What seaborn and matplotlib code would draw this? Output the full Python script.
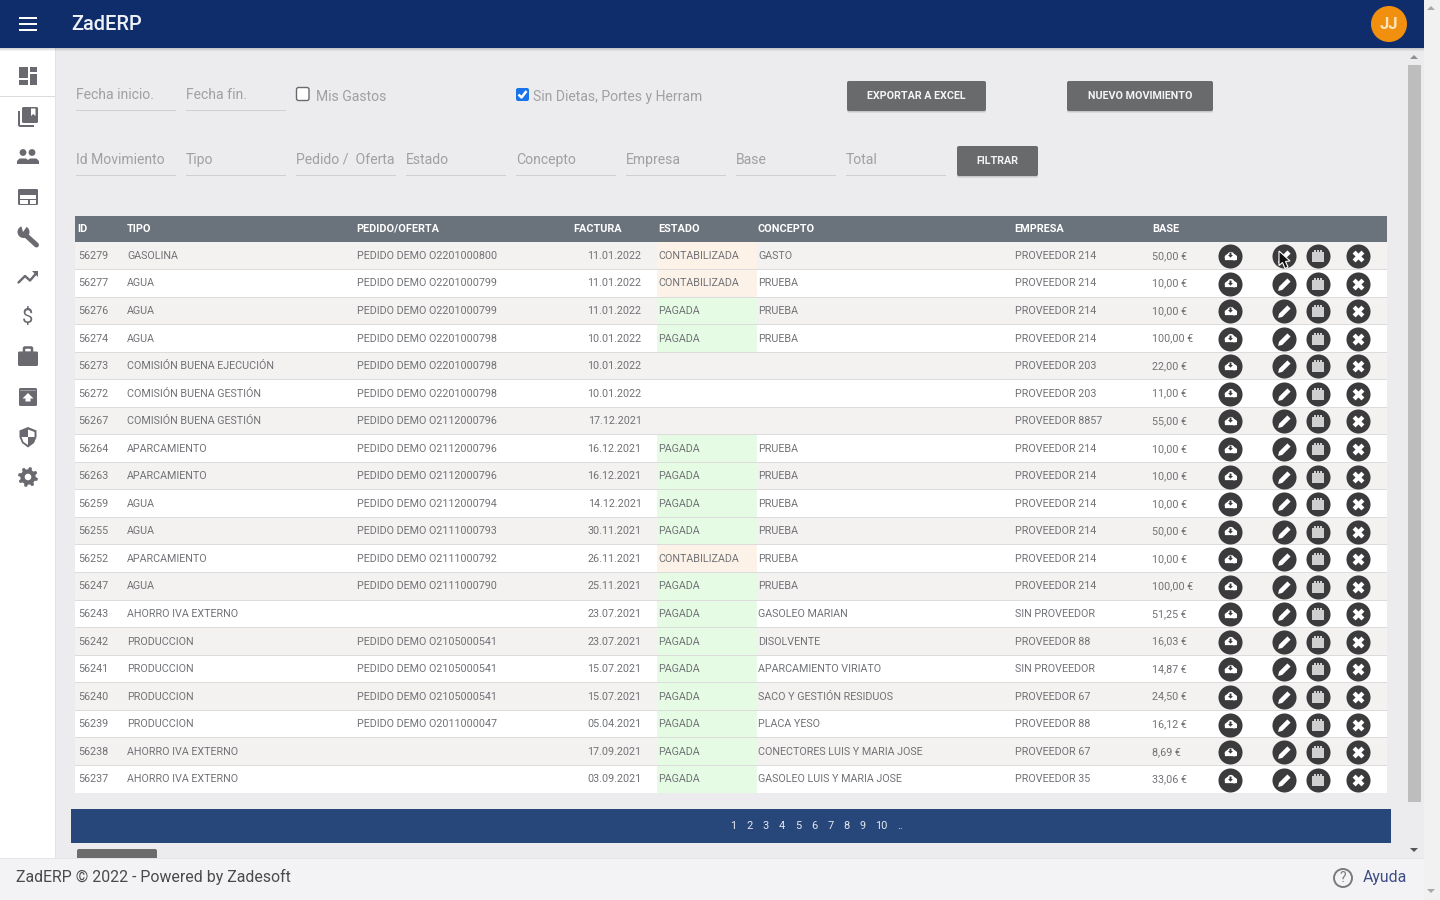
import numpy as np
import pandas as pd
import matplotlib
matplotlib.use("Agg")
import matplotlib.pyplot as plt
from matplotlib.colors import ListedColormap
from matplotlib.patches import Rectangle, FancyBboxPatch, Circle, Polygon
from matplotlib.path import Path
import seaborn as sns

# ---------- table content ----------
ids = ["56279","56277","56276","56274","56273","56272","56267","56264","56263","56259",
       "56255","56252","56247","56243","56242","56241","56240","56239","56238","56237"]
tipos = ["GASOLINA","AGUA","AGUA","AGUA","COMISIÓN BUENA EJECUCIÓN","COMISIÓN BUENA GESTIÓN",
         "COMISIÓN BUENA GESTIÓN","APARCAMIENTO","APARCAMIENTO","AGUA","AGUA","APARCAMIENTO","AGUA",
         "AHORRO IVA EXTERNO","PRODUCCION","PRODUCCION","PRODUCCION","PRODUCCION",
         "AHORRO IVA EXTERNO","AHORRO IVA EXTERNO"]
pedidos = ["O2201000800","O2201000799","O2201000799","O2201000798","O2201000798","O2201000798",
           "O2112000796","O2112000796","O2112000796","O2112000794","O2111000793","O2111000792",
           "O2111000790","","O2105000541","O2105000541","O2105000541","O2011000047","",""]
facturas = ["11.01.2022","11.01.2022","11.01.2022","10.01.2022","10.01.2022","10.01.2022",
            "17.12.2021","16.12.2021","16.12.2021","14.12.2021","30.11.2021","26.11.2021",
            "25.11.2021","23.07.2021","23.07.2021","15.07.2021","15.07.2021","05.04.2021",
            "17.09.2021","03.09.2021"]
estados = ["CONTABILIZADA","CONTABILIZADA","PAGADA","PAGADA","","","","PAGADA","PAGADA","PAGADA",
           "PAGADA","CONTABILIZADA","PAGADA","PAGADA","PAGADA","PAGADA","PAGADA","PAGADA","PAGADA","PAGADA"]
conceptos = ["GASTO","PRUEBA","PRUEBA","PRUEBA","","","","PRUEBA","PRUEBA","PRUEBA","PRUEBA","PRUEBA",
             "PRUEBA","GASOLEO MARIAN","DISOLVENTE","APARCAMIENTO VIRIATO","SACO Y GESTIÓN RESIDUOS",
             "PLACA YESO","CONECTORES LUIS Y MARIA JOSE","GASOLEO LUIS Y MARIA JOSE"]
empresas = ["PROVEEDOR 214","PROVEEDOR 214","PROVEEDOR 214","PROVEEDOR 214","PROVEEDOR 203",
            "PROVEEDOR 203","PROVEEDOR 8857","PROVEEDOR 214","PROVEEDOR 214","PROVEEDOR 214",
            "PROVEEDOR 214","PROVEEDOR 214","PROVEEDOR 214","SIN PROVEEDOR","PROVEEDOR 88",
            "SIN PROVEEDOR","PROVEEDOR 67","PROVEEDOR 88","PROVEEDOR 67","PROVEEDOR 35"]
bases = ["50,00 €","10,00 €","10,00 €","100,00 €","22,00 €","11,00 €","55,00 €","10,00 €","10,00 €",
         "10,00 €","50,00 €","10,00 €","100,00 €","51,25 €","16,03 €","14,87 €","24,50 €","16,12 €",
         "8,69 €","33,06 €"]
headers = ["ID","TIPO","PEDIDO/OFERTA","FACTURA","ESTADO","CONCEPTO","EMPRESA","BASE"]
filters_top = ["Fecha inicio.","Fecha fin."]
filters_row = ["Id Movimiento","Tipo","Pedido /  Oferta","Estado","Concepto","Empresa","Base","Total"]
pages = ["1","2","3","4","5","6","7","8","9","10",".."]

# ---------- layout ----------
W, H = 1440, 900
n = len(ids)
T0, T1 = 242, 793
rows = T0 + (np.arange(n) + 0.5) * (T1 - T0) / n
hdr_x = [77, 127, 356.5, 573.5, 658.5, 758, 1014.5, 1152]
TXT, HDR = "#707276", "#ffffff"
FS = 7.75

sns.set_theme(style="white")
plt.rcParams["font.family"] = ["Roboto", "DejaVu Sans"]
fig = plt.figure(figsize=(14.4, 9), dpi=100, facecolor="#ececee")

def px_axes(x0, y0, x1, y1, z):
    return fig.add_axes([x0 / W, 1 - y1 / H, (x1 - x0) / W, (y1 - y0) / H], zorder=z)

# background chrome
bg = px_axes(0, 0, W, H, 0)
bg.set_xlim(0, W); bg.set_ylim(H, 0); bg.axis("off")

# row stripes and status cells as seaborn heatmaps
stripe_ax = px_axes(75, T0, 1387, T1, 1)
stripes = pd.DataFrame({"row": [i % 2 for i in range(n)]})
sns.heatmap(stripes, ax=stripe_ax, cbar=False, cmap=ListedColormap(["#f4f2f0", "#ffffff"]),
            vmin=0, vmax=1, xticklabels=False, yticklabels=False)
stripe_ax.axis("off")

state_ax = px_axes(657, T0, 757, T1, 2)
code = {"": np.nan, "CONTABILIZADA": 0, "PAGADA": 1}
states = pd.DataFrame({"estado": [code[e] for e in estados]})
sns.heatmap(states, ax=state_ax, cbar=False, cmap=ListedColormap(["#fdf2e7", "#e5fbe4"]),
            vmin=0, vmax=1, xticklabels=False, yticklabels=False, mask=states.isna())
state_ax.axis("off"); state_ax.patch.set_alpha(0)

# overlay for text, buttons and icons
ax = px_axes(0, 0, W, H, 3)
ax.set_xlim(0, W); ax.set_ylim(H, 0); ax.axis("off"); ax.patch.set_alpha(0)

def rect(a, x0, y0, x1, y1, c, z=1, **k):
    a.add_patch(Rectangle((x0, y0), x1 - x0, y1 - y0, fc=c, ec="none", zorder=z, **k))

def rrect(a, x0, y0, x1, y1, c, r=2, z=1, **k):
    a.add_patch(FancyBboxPatch((x0 + r, y0 + r), x1 - x0 - 2 * r, y1 - y0 - 2 * r,
                               boxstyle=f"round,pad={r}", fc=c, ec=k.pop("ec", "none"), zorder=z, **k))

# chrome shapes
rect(bg, 1424, 0, W, H, "#f1f1f1")
rect(bg, 0, 48, 55, 860, "#ffffff")
rect(bg, 55, 48, 56, 860, "#e2e2e4")
for i, a in enumerate([.16, .10, .05]):
    rect(bg, 0, 48 + i, 1424, 49 + i, "#000000", z=2, alpha=a)
rect(bg, 0, 0, 1424, 48, "#0f2d6b", z=3)
rect(bg, 0, 96, 55, 97, "#dcdcdc", z=2)
rect(bg, 1408, 65, 1421, 802, "#bdbdbd")
rect(bg, 75, 216, 1387, 242, "#6a727b")
rect(bg, 71, 809, 1391, 843, "#27467a")
rrect(bg, 77, 849, 157, 870, "#6c6c6c", r=2)
rect(bg, 0, 859, 1424, 900, "#f3f3f5", z=4)
rect(bg, 0, 858, 1424, 859, "#e4e4e6", z=4)
for xc, yc, d in [(1431, 8, -1), (1414, 57, -1), (1414, 850, 1), (1431, 891, 1)]:
    col = "#555555" if xc == 1414 and d == 1 else "#a8a8a8" if xc == 1431 else "#909090"
    bg.add_patch(Polygon([(xc - 4, yc - 2 * d), (xc + 4, yc - 2 * d), (xc, yc + 2 * d)], fc=col, ec="none", zorder=5))

# top bar
for y in (18, 24, 30):
    rect(ax, 19, y - 1, 37, y + 1, "#ffffff")
ax.text(71.5, 24.5, "ZadERP", color="#eef2f8", fontsize=14.4, weight="medium", va="center")
ax.add_patch(Circle((1389, 24), 18, fc="#f18f0e", ec="none"))
ax.text(1389, 24.5, "JJ", color="#fde6bd", fontsize=12, weight="bold", va="center", ha="center")

# filters
GREY = "#a0a0a2"
for label, x0 in zip(filters_top, [76, 186]):
    ax.text(x0, 95, label, color=GREY, fontsize=10.1, va="center")
    rect(ax, x0, 110, x0 + 100, 111, "#d0d0d2")
for i, label in enumerate(filters_row):
    x0 = 76 + 110 * i
    ax.text(x0, 160, label, color=GREY, fontsize=10.1, va="center")
    rect(ax, x0, 175, x0 + 100, 176, "#d0d0d2")
rrect(ax, 296.5, 87.5, 309, 100.5, "#ffffff", r=2, ec="#6a6a6a", lw=1)
ax.text(316, 97, "Mis Gastos", color=GREY, fontsize=10.1, va="center")
rrect(ax, 516, 88, 529, 101, "#1a73e8", r=2)
ax.plot([518.5, 521.5, 526.5], [94.5, 97.5, 91], color="white", lw=1.8, solid_capstyle="butt")
ax.text(533, 97, "Sin Dietas, Portes y Herram", color=GREY, fontsize=10.1, va="center")

for label, x0, y0, x1, y1 in [("EXPORTAR A EXCEL", 847, 81, 986, 111),
                              ("NUEVO MOVIMIENTO", 1067, 81, 1213, 111),
                              ("FILTRAR", 957, 146, 1038, 176)]:
    rrect(ax, x0, y0 + 1.5, x1, y1 + 1.5, "#c8c8ca", r=2)
    rrect(ax, x0, y0, x1, y1, "#696a6c", r=2)
    ax.text((x0 + x1) / 2, (y0 + y1) / 2, label, color="#f4f4f4", fontsize=7.75, weight="bold",
            ha="center", va="center")

# table text
for label, x in zip(headers, hdr_x):
    ax.text(x, 229, label, color=HDR, fontsize=7.8, weight="bold", va="center")
for i, y in enumerate(rows):
    if i < n - 1:
        rect(ax, 75, y + 13.2, 1387, y + 14.2, "#dcdcdc", z=0.5)
    t = y + 0.1
    ax.text(hdr_x[0] + 1, t, ids[i], color=TXT, fontsize=FS, va="center")
    ax.text(hdr_x[1], t, tipos[i], color=TXT, fontsize=FS, va="center")
    if pedidos[i]:
        ax.text(hdr_x[2] + 0.5, t, "PEDIDO DEMO " + pedidos[i], color=TXT, fontsize=FS, va="center")
    ax.text(641.5, t, facturas[i], color=TXT, fontsize=FS, va="center", ha="right")
    ax.text(hdr_x[4], t, estados[i], color=TXT, fontsize=FS, va="center")
    ax.text(hdr_x[5], t, conceptos[i], color=TXT, fontsize=FS, va="center")
    ax.text(hdr_x[6] + 0.5, t, empresas[i], color=TXT, fontsize=FS, va="center")
    ax.text(hdr_x[7], t, bases[i], color=TXT, fontsize=FS, va="center")

# action buttons as seaborn scatter layers
def unit(points):
    return Path(np.array(points, float))

def compound(*paths):
    return Path.make_compound_path(*paths)

cloud = compound(Path.circle((-0.45, 0.05), 0.42), Path.circle((0.05, 0.3), 0.55), Path.circle((0.55, 0.02), 0.45),
                 Path(np.array([[-0.85, -0.4], [0.95, -0.4], [0.95, 0.2], [-0.85, 0.2], [-0.85, -0.4]]), closed=True))
arrow_down = unit([(-0.5, 0.1), (-0.2, 0.1), (-0.2, 0.6), (0.2, 0.6), (0.2, 0.1), (0.5, 0.1), (0, -0.45), (-0.5, 0.1)])
pencil = unit([(-1, -1), (-0.85, -0.35), (0.45, 0.95), (0.95, 0.45), (-0.35, -0.85), (-1, -1)])
calendar = unit([(-0.9, -0.9), (0.9, -0.9), (0.9, 0.7), (0.55, 0.7), (0.55, 1), (0.3, 1), (0.3, 0.7), (0.12, 0.7), (0.12, 1),
                 (-0.12, 1), (-0.12, 0.7), (-0.3, 0.7), (-0.3, 1), (-0.55, 1), (-0.55, 0.7), (-0.9, 0.7), (-0.9, -0.9)])

btn_cols = {"descarga": 1230, "editar": 1284, "calendario": 1318, "borrar": 1358}
btn = pd.DataFrame([{"x": x, "y": y + 0.4} for x in btn_cols.values() for y in rows])
sns.scatterplot(data=btn, x="x", y="y", ax=ax, s=300, color="#3b3b3d", linewidth=0, legend=False, zorder=5)

def glyph(col, marker, size, color, dy=0.0):
    d = pd.DataFrame({"x": btn_cols[col] * np.ones(n), "y": rows + 0.4 + dy})
    sns.scatterplot(data=d, x="x", y="y", ax=ax, s=size, marker=marker, color=color,
                    linewidth=0, legend=False, zorder=6)

glyph("descarga", cloud, 90, "#ffffff", dy=0.5)
glyph("descarga", arrow_down, 18, "#3b3b3d", dy=-1.0)
glyph("editar", pencil, 85, "#ffffff")
glyph("calendario", calendar, 85, "#cfcfcf")
glyph("calendario", "_", 30, "#b0b0b0", dy=-2.0)
glyph("borrar", "X", 72, "#ffffff")
ax.set_xlim(0, W); ax.set_ylim(H, 0); ax.set_xlabel(""); ax.set_ylabel("")

# mouse cursor on first row
ax.add_patch(Polygon([(1279, 251), (1279, 265.5), (1282.5, 262.5), (1285, 268.5), (1288, 267), (1285.5, 261.5), (1290, 261)],
                     fc="#111111", ec="#ffffff", lw=0.8, zorder=8))

# pagination
page_x = [733, 749.5, 766, 782, 798.5, 814.5, 830.5, 846.5, 862.5, 881, 900]
for label, x in zip(pages, page_x):
    ax.text(x, 826, label, color="#e6e9f0", fontsize=7.9, ha="center", va="center")

# footer
ax.text(16, 877, "ZadERP © 2022 - Powered by Zadesoft", color="#4a4a4c", fontsize=11.4, va="center")
ax.add_patch(Circle((1343, 878), 9, fc="none", ec="#7a7a7a", lw=1.4))
ax.text(1343, 878.5, "?", color="#7a7a7a", fontsize=10, ha="center", va="center")
ax.text(1363, 877.5, "Ayuda", color="#3d4d85", fontsize=11.4, va="center")

# sidebar icons
IC = "#69696f"
for x0, y0, x1, y1 in [(19, 67, 27.5, 78), (19, 80, 27.5, 85), (29.5, 67, 37, 72), (29.5, 74, 37, 85)]:
    rect(ax, x0, y0, x1, y1, IC)
# library
rrect(ax, 22, 107, 38, 123, IC, r=1.5)
ax.add_patch(Polygon([(31, 108.5), (35.5, 108.5), (35.5, 116), (33.2, 114), (31, 116)], fc="white", ec="none", zorder=2))
ax.add_patch(Polygon([(18, 111), (20, 111), (20, 125), (34, 125), (34, 127), (19.5, 127), (18, 125.5)], fc=IC, ec="none"))
# people
for cx, cy in [(23, 152.5), (32, 152.5)]:
    ax.add_patch(Circle((cx, cy), 3.4, fc=IC, ec="none"))
ax.add_patch(Polygon([(17, 164), (17, 161), (19.5, 158.5), (26, 158.5), (28, 160), (30, 158.5), (36.5, 158.5), (39, 161), (39, 164)], fc=IC, ec="none"))
# web
rrect(ax, 18, 189, 38, 205, IC, r=1.2)
rect(ax, 20, 194.5, 36, 203.5, "#ffffff", z=2)
rect(ax, 20, 199, 36, 200.3, IC, z=3)
rect(ax, 28, 199, 29.5, 203.5, IC, z=3)
# wrench
ax.plot([25, 36.5], [234.5, 245], color=IC, lw=3.6, solid_capstyle="round")
ax.add_patch(Circle((23.5, 232), 6, fc=IC, ec="none"))
ax.add_patch(Polygon([(23, 232), (21, 225), (28, 225)], fc="white", ec="none", zorder=2))
# trending up
ax.plot([18.5, 25, 30, 36.5], [282.5, 276, 280.5, 273], color=IC, lw=1.7)
ax.add_patch(Polygon([(32, 271), (38, 271), (38, 277)], fc=IC, ec="none"))
# dollar
ax.text(28, 317.5, "$", color=IC, fontsize=14.5, ha="center", va="center")
# briefcase
rrect(ax, 18, 351.5, 38, 366, IC, r=1.5)
rrect(ax, 24, 347.5, 32, 353, "none", r=1, ec=IC, lw=1.8)
# archive
rrect(ax, 19, 388, 37, 406, IC, r=1.5)
rect(ax, 20, 389.5, 36, 391, "#ffffff", z=2, alpha=0.35)
ax.add_patch(Polygon([(22.5, 398.5), (28, 393), (33.5, 398.5), (30.5, 398.5), (30.5, 401.5), (25.5, 401.5), (25.5, 398.5)], fc="white", ec="none", zorder=2))
# shield
ax.add_patch(Polygon([(28, 427), (36.5, 430.5), (36.5, 437), (34, 443), (28, 447.5), (22, 443), (19.5, 437), (19.5, 430.5)], fc=IC, ec="none"))
ax.add_patch(Polygon([(28, 429.5), (34.5, 432), (34.5, 437), (28, 437)], fc="white", ec="none", zorder=2))
ax.add_patch(Polygon([(28, 437), (21.5, 437), (23.5, 442), (28, 445)], fc="white", ec="none", zorder=2))
# gear: toothed outline with a white hub
gear_t = np.linspace(0, 2 * np.pi, 48, endpoint=False) + np.pi / 24
gear_r = np.where((np.arange(48) // 3) % 2 == 0, 10, 7.6)
ax.add_patch(Polygon(np.c_[28 + gear_r * np.cos(gear_t), 477 + gear_r * np.sin(gear_t)], fc=IC, ec="none"))
ax.add_patch(Circle((28, 477), 3.3, fc="white", ec="none", zorder=2))

fig.savefig("out.png", dpi=100, facecolor=fig.get_facecolor())
